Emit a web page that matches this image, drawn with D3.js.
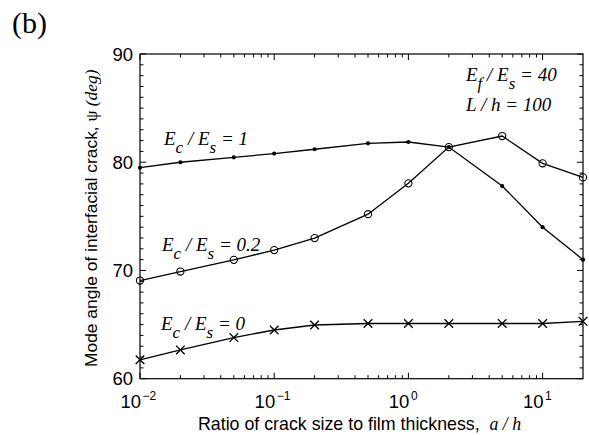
<!DOCTYPE html>
<html>
<head>
<meta charset="utf-8">
<script src="https://cdn.jsdelivr.net/npm/d3@7"></script>
<style>
  body { margin: 0; background: #fff; }
  svg { display: block; }
</style>
</head>
<body>
<div id="chart"></div>
<script>
// a/h ratios where the mode angle was computed
var ratios = [0.01, 0.02, 0.05, 0.1, 0.2, 0.5, 1, 2, 5, 10, 20];
// mode angle psi (deg) for each Ec/Es
var psiEc1  = [79.5, 80.0, 80.45, 80.8, 81.2, 81.75, 81.87, 81.4, 77.8, 74.0, 71.0];
var psiEc02 = [69.07, 69.9, 70.98, 71.88, 72.99, 75.2, 78.05, 81.4, 82.42, 79.9, 78.6];
var psiEc0  = [61.75, 62.66, 63.8, 64.5, 64.96, 65.1, 65.1, 65.1, 65.1, 65.1, 65.3];
var xTicks = [0.01, 0.1, 1, 10];
var xTickExp = ["\u22122", "\u22121", "0", "1"];
var yTicks = [60, 70, 80, 90];

var W = 589, H = 435;
// plot box (note: "top" is reserved on window, so use other names)
var pL = 140, pR = 583, pT = 54, pB = 378.7;
var serif = "'Liberation Serif', 'DejaVu Serif', serif";
var sans = "'Liberation Sans', Arial, sans-serif";

var svg = d3.select("#chart").append("svg")
            .attr("width", W)
            .attr("height", H);

var x = d3.scaleLog().domain([0.01, 20]).range([pL, pR]);
var y = d3.scaleLinear().domain([60, 90]).range([pB, pT]);

// minor ticks 2..9 per decade
var xMinor = [];
for (var e = -2; e <= 1; e++) {
	for (var m = 2; m <= 9; m++) {
		var v = m * Math.pow(10, e);
		if (v < 20) xMinor.push(v);
	}
}
var yMinor = d3.range(61, 90).filter(function(d){ return d % 10 != 0; });

var tickG = svg.append("g").attr("stroke", "#000").attr("stroke-width", 1);
function tickLines(vals, len, isX){
	vals.forEach(function(v){
		if (isX) {
			var px = x(v);
			tickG.append("line").attr("x1", px).attr("x2", px).attr("y1", pB).attr("y2", pB - len);
			tickG.append("line").attr("x1", px).attr("x2", px).attr("y1", pT).attr("y2", pT + len);
		} else {
			var py = y(v);
			tickG.append("line").attr("y1", py).attr("y2", py).attr("x1", pL).attr("x2", pL + len);
			tickG.append("line").attr("y1", py).attr("y2", py).attr("x1", pR).attr("x2", pR - len);
		}
	});
}
tickLines(xTicks, 6, true);
tickLines(xMinor, 3.5, true);
tickLines(yTicks, 6, false);
tickLines(yMinor, 3.5, false);

// frame
svg.append("rect")
   .attr("x", pL).attr("y", pT)
   .attr("width", pR - pL).attr("height", pB - pT)
   .attr("fill", "none").attr("stroke", "#000").attr("stroke-width", 1.2);

// y tick labels
svg.append("g").selectAll("text").data(yTicks).enter().append("text")
   .attr("x", pL - 7)
   .attr("y", function(d){ return y(d) + 6.5; })
   .attr("text-anchor", "end")
   .attr("font-family", sans).attr("font-size", 18.5)
   .text(function(d){ return d; });

// x tick labels 10^n : the "10" ends at the tick, exponent to its right
var xlg = svg.append("g").attr("font-family", sans);
xlg.selectAll("text.base").data(xTicks).enter().append("text")
   .attr("class", "base")
   .attr("x", function(d){ return x(d) + 1; })
   .attr("y", 408)
   .attr("text-anchor", "end")
   .attr("font-size", 18.5)
   .text("10");
xlg.selectAll("text.exp").data(xTicks).enter().append("text")
   .attr("class", "exp")
   .attr("x", function(d){ return x(d) + 2.5; })
   .attr("y", 400)
   .attr("font-size", 12)
   .text(function(d, i){ return xTickExp[i]; });

// lines and markers
var line = d3.line().x(function(d){ return x(d[0]); }).y(function(d){ return y(d[1]); });
function series(vals){
	return ratios.map(function(r, i){ return [r, vals[i]]; });
}
var s1 = series(psiEc1), s02 = series(psiEc02), s0 = series(psiEc0);
[s0, s02, s1].forEach(function(s){
	svg.append("path").datum(s).attr("d", line)
	   .attr("fill", "none").attr("stroke", "#000").attr("stroke-width", 1.3);
});

svg.append("g").selectAll("circle").data(s1).enter().append("circle")
   .attr("cx", function(d){ return x(d[0]); }).attr("cy", function(d){ return y(d[1]); })
   .attr("r", 2.1).attr("fill", "#000");

svg.append("g").selectAll("circle").data(s02).enter().append("circle")
   .attr("cx", function(d){ return x(d[0]); }).attr("cy", function(d){ return y(d[1]); })
   .attr("r", 3.6).attr("fill", "none").attr("stroke", "#000").attr("stroke-width", 1.1);

var cross = d3.symbol().type(d3.symbolX).size(50);
svg.append("g").selectAll("path").data(s0).enter().append("path")
   .attr("d", cross)
   .attr("transform", function(d){ return "translate(" + x(d[0]) + "," + y(d[1]) + ")"; })
   .attr("fill", "none").attr("stroke", "#000").attr("stroke-width", 1.3);

// italic math labels with subscripts
function mathLabel(px, py, parts){
	var t = svg.append("text").attr("x", px).attr("y", py)
	           .attr("font-family", serif).attr("font-style", "italic").attr("font-size", 19);
	parts.forEach(function(p){
		if (p.sub) {
			t.append("tspan").attr("dy", 8).attr("font-size", 17).text(p.t);
		} else {
			t.append("tspan").attr("dy", p.after ? -8 : 0).text(p.t);
		}
	});
	return t;
}
function ratioParts(a, b, val){
	return [{t: "E"}, {t: a, sub: true}, {t: " / E", after: true}, {t: b, sub: true}, {t: " = " + val, after: true}];
}
mathLabel(164, 145, ratioParts("c", "s", "1"));
mathLabel(162, 251, ratioParts("c", "s", "0.2"));
mathLabel(161, 330, ratioParts("c", "s", "0"));
mathLabel(466, 81, ratioParts("f", "s", "40"));
mathLabel(466, 111, [{t: "L / h = 100"}]);

// panel label
svg.append("text").attr("x", 12).attr("y", 33)
   .attr("font-family", serif).attr("font-size", 30).text("(b)");

// axis titles
var xt = svg.append("text").attr("x", 198).attr("y", 430)
            .attr("font-family", sans).attr("font-size", 17.8);
xt.append("tspan").text("Ratio of crack size to film thickness,\u00a0 ");
xt.append("tspan").attr("font-family", serif).attr("font-style", "italic").text("a / h");

var yt = svg.append("text")
            .attr("transform", "translate(96.5," + 367 + ") rotate(-90)")
            .attr("font-family", sans).attr("font-size", 17.4);
yt.append("tspan").text("Mode angle of interfacial crack, ");
yt.append("tspan").attr("font-family", serif).text("\u03c8 ");
yt.append("tspan").attr("font-family", serif).attr("font-style", "italic").text("(deg)");
</script>
</body>
</html>
